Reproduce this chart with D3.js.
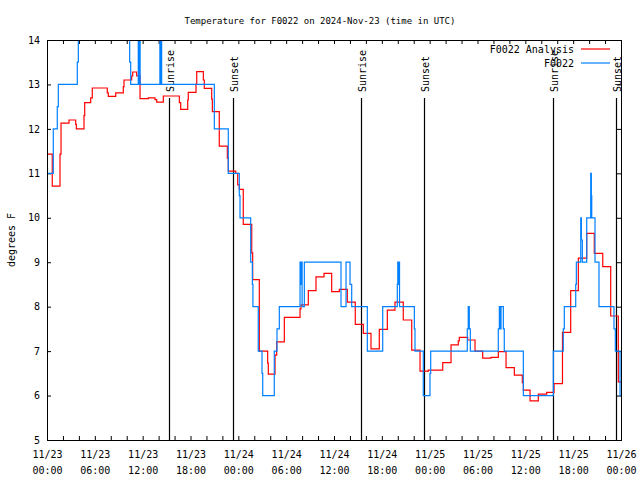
<!DOCTYPE html>
<html><head><meta charset="utf-8">
<script src="https://cdn.jsdelivr.net/npm/d3@7"></script>
<style>
body{margin:0;background:#fff}
svg{display:block}
text{font-family:"DejaVu Sans Mono","Liberation Mono",monospace;font-size:10px;fill:#000}
</style>
</head><body>
<svg id="chart" width="640" height="480"></svg>
<script>
// hours since 2024-11-23 00:00 UTC
const analysisHours = [0,0.66,1.63,1.76,2.76,3.6,3.68,4.64,4.73,5.48,5.68,7.56,7.69,8.62,9.57,9.66,10.62,10.75,11.25,11.67,12.71,13.55,13.76,14.59,16.6,16.77,17.65,17.72,18.69,18.78,19.61,19.73,20.66,20.74,21.61,22.62,22.74,23.67,23.92,24.12,24.62,25.68,25.8,26.63,27.68,27.76,28.6,28.81,29.77,31.74,31.86,32.78,33.74,34.75,35.71,36.67,37.67,38.67,39.68,40.64,41.68,42.69,43.65,44.69,45.75,46.79,47.83,49.64,50.68,51.59,51.72,52.77,53.69,54.65,55.69,56.61,57.58,58.62,59.62,59.75,60.59,61.63,62.68,63.6,64.66,65.69,66.65,67.7,68.65,69.71,70.71,71.66,72];
const analysisTemps = [11.43,10.71,11.43,12.13,12.2,12.1,12.0,12.3,12.59,12.7,12.92,12.81,12.73,12.81,12.95,13.1,13.19,13.28,13.19,12.68,12.70,12.66,12.6,12.74,12.59,12.44,12.65,12.82,13.01,13.29,13.1,12.91,12.67,12.39,11.61,11.34,11.05,11.0,10.74,10.64,9.85,9.21,8.61,7.0,6.73,6.48,6.91,7.21,7.76,7.95,8.04,8.36,8.67,8.75,8.34,8.39,8.10,7.6,7.4,7.05,7.49,7.92,8.1,7.7,7.02,6.55,6.57,6.74,7.14,7.23,7.31,7.25,7.0,6.84,6.86,6.99,6.63,6.46,6.29,6.12,5.88,6.03,6.07,6.27,7.42,8.36,9.09,9.65,9.2,8.9,7.79,6.31,6.31];

const obsHours = [0,0.79,1.29,1.42,3.8,3.93,10.37,10.5,11.45,11.53,11.6,11.68,14.16,14.24,14.3,14.38,20.99,22.74,24.12,24.21,25.55,25.76,25.83,26.5,26.97,27.06,28.51,28.85,29.14,31.74,31.82,31.9,32.0,32.28,36.88,37.51,38.01,38.22,40.18,42.11,43.94,44.0,44.08,44.14,44.22,46.08,46.16,47.2,48.04,48.13,52.72,52.84,52.97,53.1,56.61,56.74,56.85,56.95,57.24,57.36,59.75,63.51,64.76,64.89,66.32,66.4,66.95,67.03,67.15,67.7,68.2,68.28,68.33,68.74,69.24,71.12,71.29,71.88,72];
const obsTemps = [11,12,12.5,13,13.5,15,13.5,13,15,13,15,13,15,13,15,13,12,11,10.5,10,9,8.5,8,7,6.5,6,7,7.5,8,9,8.5,9,8,9,8,9,8.5,8,7,8,8.5,9,8.5,9,8,7.5,7,6,6.5,7,7.5,8,7.5,7,7.5,8,7.5,8,7.5,7,6,7,7.5,8,8.5,9,10,9.5,9,10,11,10.5,10,9,8,7.5,7,6,6];

const sunriseHours = [15.3, 39.39, 63.51];
const sunsetHours = [23.33, 47.29, 71.34];
const yTicks = [5,6,7,8,9,10,11,12,13,14];
const titleText = "Temperature for F0022 on 2024-Nov-23 (time in UTC)";
const yLabel = "degrees F";
const seriesNames = ["F0022 Analysis", "F0022"];
const seriesColors = ["#ff0000", "#0080ff"];

const t0 = Date.UTC(2024,10,23,0,0);
const toDate = h => new Date(t0 + h*3600e3);

const L = 47, R = 621, T = 40, B = 440;
const svg = d3.select("#chart");
const x = d3.scaleUtc().domain([toDate(0), toDate(72)]).range([L, R]);
const y = d3.scaleLinear().domain([5,14]).range([B, T]);

svg.append("defs").append("clipPath").attr("id","clip")
  .append("rect").attr("x",L).attr("y",T).attr("width",R-L).attr("height",B-T);

// title
svg.append("text").attr("x",320).attr("y",24).attr("text-anchor","middle")
  .style("font-size","9px").text(titleText);
// y label
svg.append("text").attr("transform","translate(15,240) rotate(-90)").attr("text-anchor","middle").text(yLabel);

// axes
const tickVals2h = d3.range(0,73,2).map(toDate);
const tickVals6h = d3.range(0,73,6).map(toDate);
const gxb = svg.append("g").attr("transform",`translate(0,${B})`)
  .call(d3.axisBottom(x).tickValues(tickVals2h).tickSize(-4).tickFormat(""));
const gxt = svg.append("g").attr("transform",`translate(0,${T})`)
  .call(d3.axisTop(x).tickValues(tickVals2h).tickSize(-4).tickFormat(""));
const gxl = svg.append("g").attr("transform",`translate(0,${B})`)
  .call(d3.axisBottom(x).tickValues(tickVals6h).tickSize(0).tickPadding(0).tickFormat(d3.utcFormat("%m/%d")));
gxl.selectAll("text").each(function(d){
  const t = d3.select(this);
  t.text(null).attr("y",0).attr("dy",null);
  t.append("tspan").attr("x",0).attr("y",18).text(d3.utcFormat("%m/%d")(d));
  t.append("tspan").attr("x",0).attr("y",34).text(d3.utcFormat("%H:%M")(d));
});
const gyl = svg.append("g").attr("transform",`translate(${L},0)`)
  .call(d3.axisLeft(y).tickValues(yTicks).tickSize(-4).tickPadding(7).tickFormat(d3.format("d")));
const gyr = svg.append("g").attr("transform",`translate(${R},0)`)
  .call(d3.axisRight(y).tickValues(yTicks).tickSize(-4).tickFormat(""));
[gxb,gxt,gxl,gyl,gyr].forEach(g=>{
  g.select(".domain").remove();
  g.selectAll("line").attr("stroke","#000");
  g.selectAll("text").attr("font-family",null).attr("font-size",null).attr("fill","#000");
});

// sunrise / sunset lines
const events = sunriseHours.map(h=>({h,label:"Sunrise"})).concat(sunsetHours.map(h=>({h,label:"Sunset"})));
const ev = svg.append("g");
ev.selectAll("line").data(events).join("line")
  .attr("x1",d=>Math.round(x(toDate(d.h)))+0.5).attr("x2",d=>Math.round(x(toDate(d.h)))+0.5)
  .attr("y1",B).attr("y2",98).attr("stroke","#000").attr("stroke-width",1.2);
ev.selectAll("text").data(events).join("text")
  .attr("transform",d=>`translate(${Math.round(x(toDate(d.h)))+5},92) rotate(-90)`)
  .text(d=>d.label);

// series
const mk = (hs, vs) => hs.map((h,i)=>({t:toDate(h), v:vs[i]}));
const line = d3.line().x(d=>x(d.t)).y(d=>y(d.v)).curve(d3.curveStepAfter);
const plot = svg.append("g").attr("clip-path","url(#clip)");
plot.append("path").datum(mk(analysisHours,analysisTemps))
  .attr("d",line).attr("fill","none").attr("stroke",seriesColors[0]).attr("stroke-width",1.2);
plot.append("path").datum(mk(obsHours,obsTemps))
  .attr("d",line).attr("fill","none").attr("stroke",seriesColors[1]).attr("stroke-width",1.2);

// border
svg.append("rect").attr("x",L+0.5).attr("y",T+0.5).attr("width",R-L).attr("height",B-T)
  .attr("fill","none").attr("stroke","#000").attr("stroke-width",1);

// legend
const lg = svg.append("g");
seriesNames.forEach((n,i)=>{
  const yy = 49 + i*14;
  lg.append("text").attr("x",574).attr("y",yy).attr("dy","0.35em").attr("text-anchor","end").text(n);
  lg.append("line").attr("x1",581).attr("x2",610).attr("y1",yy).attr("y2",yy)
    .attr("stroke",seriesColors[i]).attr("stroke-width",1.2);
});
</script>
</body></html>
